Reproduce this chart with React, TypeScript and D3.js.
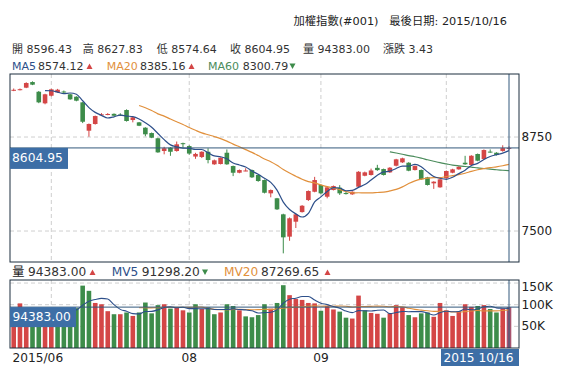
import React from 'react';
import * as d3 from 'd3';

// ---- data (index 0 = 2015/06 late, last = 2015/10/16) ----
const opens = [9368, 9380, 9406, 9481, 9352, 9198, 9299, 9345, 9355, 9318, 9286, 9211, 8834, 8923, 9046, 9050, 9058, 9048, 9109, 8976,
  8945, 8874, 8803, 8733, 8564, 8608, 8564, 8668, 8630, 8490, 8484, 8554, 8387, 8391, 8541, 8364, 8275, 8300, 8311, 8245,
  8178, 8001, 7935, 7722, 7425, 7624, 7752, 7912, 8022, 8112, 7956, 8045, 8076, 8005, 7988, 8089, 8235, 8245, 8340, 8324,
  8280, 8368, 8413, 8408, 8311, 8311, 8214, 8134, 8081, 8201, 8275, 8320, 8408, 8378, 8524, 8457, 8556, 8541, 8565, 8596.43];
const highs = [9395, 9395, 9478, 9490, 9362, 9325, 9392, 9390, 9368, 9325, 9292, 9215, 8930, 9035, 9068, 9068, 9064, 9066, 9118, 9018,
  8950, 8880, 8810, 8740, 8620, 8615, 8690, 8675, 8640, 8540, 8560, 8600, 8450, 8480, 8585, 8370, 8318, 8335, 8318, 8250,
  8185, 8052, 7940, 7730, 7680, 7730, 7845, 8040, 8220, 8120, 8090, 8105, 8110, 8030, 8028, 8295, 8290, 8330, 8380, 8330,
  8350, 8460, 8475, 8415, 8372, 8318, 8220, 8162, 8195, 8305, 8328, 8362, 8500, 8508, 8530, 8585, 8585, 8548, 8640, 8627.83];
const lows = [9360, 9370, 9400, 9440, 9200, 9185, 9290, 9338, 9330, 9245, 9225, 8935, 8754, 8915, 9035, 9040, 9028, 9030, 8955, 8945,
  8895, 8760, 8735, 8540, 8520, 8500, 8555, 8610, 8515, 8460, 8470, 8400, 8380, 8385, 8380, 8230, 8268, 8295, 8205, 8155,
  8000, 7948, 7780, 7203, 7370, 7540, 7745, 7900, 8015, 7990, 7935, 8040, 7980, 7985, 7980, 8080, 8228, 8238, 8300, 8238,
  8272, 8360, 8405, 8295, 8305, 8180, 8105, 8060, 8075, 8195, 8268, 8315, 8380, 8372, 8428, 8450, 8540, 8505, 8555, 8574.64];
const closes = [9378, 9386, 9468, 9446, 9211, 9318, 9384, 9379, 9345, 9251, 9233, 8953, 8923, 9029, 9052, 9056, 9033, 9040, 8963, 9012,
  8900, 8786, 8741, 8546, 8600, 8554, 8653, 8658, 8530, 8525, 8554, 8444, 8440, 8475, 8387, 8275, 8311, 8305, 8214, 8165,
  8009, 8045, 7788, 7416, 7669, 7722, 7836, 8032, 8178, 8001, 8081, 8098, 8001, 7995, 8022, 8288, 8280, 8305, 8310, 8245,
  8342, 8453, 8467, 8302, 8364, 8187, 8112, 8156, 8187, 8298, 8320, 8355, 8387, 8501, 8435, 8577, 8552, 8510, 8601.52, 8604.95];
const prevCloseBefore = 9360;
// volume in thousands
const volumes = [85, 103, 88, 86, 92, 88, 90, 86, 84, 88, 92, 144, 132, 104, 101, 85, 78, 78, 82, 74,
  82, 105, 80, 99, 101, 91, 93, 87, 82, 101, 90, 94, 78, 82, 101, 97, 87, 73, 71, 76,
  101, 91, 104, 145, 122, 113, 111, 104, 103, 86, 97, 89, 84, 70, 68, 121, 87, 81, 79, 70,
  80, 99, 94, 76, 71, 80, 82, 72, 104, 87, 74, 84, 101, 95, 97, 99, 90, 82, 91.3, 94.383];

const monthTickIdx = [6, 28, 49, 69];
const monthTickLabels = ['', '08', '09', ''];
const firstLabel = '2015/06';
const priceTicks = [7500, 8750];
const volTicks = [50, 100, 150];
const volTickLabels = ['50K', '100K', '150K'];

const headerTitle = '加權指數(#001)   最後日期: 2015/10/16';
const quoteItems = [['開', '8596.43'], ['高', '8627.83'], ['低', '8574.64'], ['收', '8604.95'], ['量', '94383.00'], ['漲跌', '3.43']];
const maItems = [['MA5', '8574.12', 'up'], ['MA20', '8385.16', 'up'], ['MA60', '8300.79', 'down']];
const volItems = [['量', '94383.00', 'up'], ['MV5', '91298.20', 'down'], ['MV20', '87269.65', 'up']];
const lastClose = 8604.95;
const lastVolume = 94.383;
const lastDateLabel = '2015 10/16';

const RED = '#d44646';
const GREEN = '#3d8c4a';
const LAST = '#a8546f';
const NAVY = '#2d4f8a';
const ORANGE = '#e1903c';
const MGREEN = '#4b8c5c';
const CROSS = '#33597c';
const BOX = '#3d6ea6';
const FRAME = '#1d2e3e';
const FONT = '"DejaVu Sans", "Noto Sans CJK TC", sans-serif';

function movingAvg(arr: number[], k: number) {
  return arr.map((_, i) => (i >= k ? (d3.mean(arr.slice(i - k + 1, i + 1)) as number) : null));
}

function Tri({ x, y, up }: { x: number; y: number; up: boolean }) {
  const p = up ? `${x},${y} ${x + 6},${y} ${x + 3},${y - 5.5}` : `${x},${y - 5.5} ${x + 6},${y - 5.5} ${x + 3},${y}`;
  return <polygon points={p} fill={up ? RED : GREEN} />;
}

export default function App() {
  const n = closes.length;
  const L = 10, R = 519, T = 74, B = 262, VT = 280, VB = 348;
  const x = d3.scaleLinear().domain([0, n - 1]).range([13.7, 509]);
  const y = d3.scaleLinear().domain([7088, 9588]).range([B, T]);
  const yv = d3.scaleLinear().domain([0, 157]).range([VB, VT]);
  const bw = 4.6;

  const ma5 = movingAvg(closes, 5);
  const ma20 = movingAvg(closes, 20);
  const ma60 = movingAvg(closes, 60);
  const mv5 = movingAvg(volumes, 5);
  const mv20 = movingAvg(volumes, 20);

  const lineP = (sc: d3.ScaleLinear<number, number>) =>
    d3.line<number | null>().defined((d) => d != null).x((_, i) => x(i)).y((d) => sc(d as number)).curve(d3.curveMonotoneX);
  const lp = lineP(y);
  const lv = lineP(yv);

  const candleColor = (i: number) => (i === n - 1 ? LAST : closes[i] >= opens[i] ? RED : GREEN);
  const volColor = (i: number) => {
    if (i === n - 1) return LAST;
    const prev = i === 0 ? prevCloseBefore : closes[i - 1];
    return closes[i] >= prev ? RED : GREEN;
  };

  const quoteX = [12, 82.7, 156.7, 230, 303, 383];
  const maX = [[12, 38, 86.5], [106.7, 140, 188.5], [208, 242.7, 289.5]];
  const maColors = [NAVY, ORANGE, MGREEN];
  const volLabelColors = ['#222', NAVY, ORANGE];
  const volX = [[12.3, 28, 89.5], [111.7, 141.7, 202], [224, 261, 324.5]];

  return (
    <svg width={578} height={378} style={{ position: 'absolute', left: 0, top: 0, background: '#fff' }} fontFamily={FONT}>
      <defs>
        <clipPath id="mainClip"><rect x={L} y={T} width={R - L} height={B - T} /></clipPath>
        <clipPath id="volClip"><rect x={L} y={VT} width={R - L} height={VB - VT} /></clipPath>
      </defs>
      <rect x={0} y={0} width={578} height={378} fill="#fff" />

      {/* header */}
      <text x={507} y={25} fontSize={11.3} fill="#222" textAnchor="end" style={{ whiteSpace: 'pre' }}>{headerTitle}</text>
      {quoteItems.map((q, i) => (
        <text key={i} x={quoteX[i]} y={53} fontSize={11} fill="#333" style={{ whiteSpace: 'pre' }}>{q[0] + ' ' + q[1]}</text>
      ))}
      {maItems.map((m, i) => (
        <g key={i}>
          <text x={maX[i][0]} y={69.5} fontSize={11} fill={maColors[i]}>{m[0]}</text>
          <text x={maX[i][1]} y={69.5} fontSize={11} fill="#333">{m[1]}</text>
          <Tri x={maX[i][2]} y={69} up={m[2] === 'up'} />
        </g>
      ))}

      {/* main panel grid */}
      {priceTicks.map((p) => (
        <line key={p} x1={L} x2={R} y1={y(p)} y2={y(p)} stroke="#cfcfcf" strokeDasharray="4,3" />
      ))}
      {monthTickIdx.map((t) => (
        <line key={t} x1={x(t)} x2={x(t)} y1={T} y2={B} stroke="#cfcfcf" strokeDasharray="4,3" />
      ))}

      <g clipPath="url(#mainClip)">
        {closes.map((c, i) => {
          const o = opens[i];
          const col = candleColor(i);
          const top = y(Math.max(o, c));
          const bot = y(Math.min(o, c));
          return (
            <g key={i}>
              <line x1={x(i)} x2={x(i)} y1={y(highs[i])} y2={y(lows[i])} stroke={col} strokeWidth={1} />
              <rect x={x(i) - bw / 2} y={top} width={bw} height={Math.max(1, bot - top)} fill={col} />
            </g>
          );
        })}
        <path d={lp(ma60) || ''} fill="none" stroke={MGREEN} strokeWidth={1.2} />
        <path d={lp(ma20) || ''} fill="none" stroke={ORANGE} strokeWidth={1.2} />
        <path d={lp(ma5) || ''} fill="none" stroke={NAVY} strokeWidth={1.2} />
        <line x1={L} x2={R} y1={y(lastClose)} y2={y(lastClose)} stroke={CROSS} strokeWidth={1} />
        <line x1={x(n - 1)} x2={x(n - 1)} y1={T} y2={B} stroke={CROSS} strokeWidth={1} />
      </g>
      <rect x={L} y={T} width={R - L} height={B - T} fill="none" stroke={FRAME} strokeWidth={1} />
      {priceTicks.map((p) => (
        <text key={p} x={521.5} y={y(p) + 4.3} fontSize={12} fill="#222">{p}</text>
      ))}
      <rect x={L} y={y(lastClose)} width={58} height={21} fill={BOX} />
      <text x={12} y={y(lastClose) + 14.2} fontSize={12.3} fill="#fff">{lastClose.toFixed(2)}</text>

      {/* volume header */}
      {volItems.map((m, i) => (
        <g key={i}>
          <text x={volX[i][0]} y={275.7} fontSize={12.2} fill={volLabelColors[i]}>{m[0]}</text>
          <text x={volX[i][1]} y={275.7} fontSize={12.2} fill="#333">{m[1]}</text>
          <Tri x={volX[i][2]} y={275} up={m[2] === 'up'} />
        </g>
      ))}

      {/* volume panel */}
      {volTicks.map((v) => (
        <line key={v} x1={L} x2={R} y1={yv(v)} y2={yv(v)} stroke="#cfcfcf" strokeDasharray="4,3" />
      ))}
      {monthTickIdx.map((t) => (
        <line key={t} x1={x(t)} x2={x(t)} y1={VT} y2={VB} stroke="#cfcfcf" strokeDasharray="4,3" />
      ))}
      <g clipPath="url(#volClip)">
        {volumes.map((v, i) => (
          <rect key={i} x={x(i) - 2.3} y={yv(v)} width={4.6} height={VB - yv(v)} fill={volColor(i)} />
        ))}
        <path d={lv(mv20) || ''} fill="none" stroke={ORANGE} strokeWidth={1.1} />
        <path d={lv(mv5) || ''} fill="none" stroke={NAVY} strokeWidth={1.1} />
        <line x1={L} x2={R} y1={yv(lastVolume)} y2={yv(lastVolume)} stroke={CROSS} strokeWidth={1} />
        <line x1={x(n - 1)} x2={x(n - 1)} y1={VT} y2={VB} stroke={CROSS} strokeWidth={1} />
      </g>
      <rect x={L} y={VT} width={R - L} height={VB - VT} fill="none" stroke={FRAME} strokeWidth={1} />
      {volTicks.map((v, i) => (
        <text key={v} x={521.5} y={yv(v) + (v === 150 ? 7.5 : 4)} fontSize={12.2} fill="#222">{volTickLabels[i]}</text>
      ))}
      <rect x={L} y={yv(lastVolume)} width={66} height={20} fill={BOX} />
      <text x={12.5} y={yv(lastVolume) + 14} fontSize={12.2} fill="#fff">{(lastVolume * 1000).toFixed(2)}</text>

      {/* x axis labels */}
      <text x={12.5} y={361.7} fontSize={12.2} fill="#222">{firstLabel}</text>
      {monthTickIdx.map((t, i) => (
        monthTickLabels[i] ? <text key={t} x={x(t)} y={361.7} fontSize={12.2} fill="#222" textAnchor="middle">{monthTickLabels[i]}</text> : null
      ))}
      <rect x={441} y={349} width={78} height={17} fill={BOX} />
      <text x={443.5} y={361.7} fontSize={12.2} fill="#fff" style={{ whiteSpace: 'pre' }}>{lastDateLabel}</text>
    </svg>
  );
}
